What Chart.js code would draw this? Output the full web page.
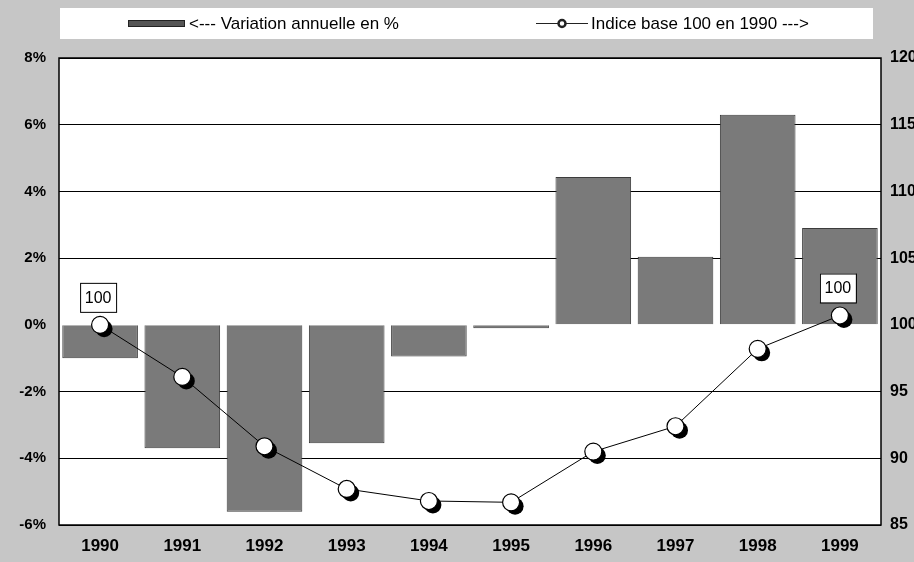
<!DOCTYPE html>
<html>
<head>
<meta charset="utf-8">
<script src="https://cdn.jsdelivr.net/npm/chart.js@4/dist/chart.umd.min.js"></script>
<style>
  html, body { margin: 0; padding: 0; background: #c4c4c4; overflow: hidden; }
  #graph { display: block; }
</style>
</head>
<body>
<canvas id="graph" width="914" height="562"></canvas>
<script>
// ─── DONNÉES ──────────────────────────────────────────────────────────────
const annees     = ["1990","1991","1992","1993","1994","1995","1996","1997","1998","1999"];
const variation  = [-1.0, -3.7, -5.6, -3.55, -0.95, -0.1, 4.43, 2.04, 6.3, 2.9];   // % annuel
const indice     = [100, 96.1, 90.9, 87.7, 86.8, 86.7, 90.5, 92.4, 98.2, 100.7];   // base 100 en 1990
const ticksPct   = [-6, -4, -2, 0, 2, 4, 6, 8];
const ticksIdx   = [85, 90, 95, 100, 105, 110, 115, 120];
const etiquettes = [0, 9];            // points portant une étiquette
const textesEtiq = ["100", "100"];

const labelBarres = "<--- Variation annuelle en %";
const labelLigne  = "Indice base 100 en 1990 --->";

const FONT = "'Liberation Sans', Arial, sans-serif";
const GRIS_FOND  = "#c6c6c6";
const GRIS_BARRE = "#7a7a7a";

// ─── PLUGINS ──────────────────────────────────────────────────────────────
const fondPlugin = {
  id: "fond",
  beforeDraw(chart) {
    const { ctx, chartArea: a } = chart;
    ctx.save();
    ctx.fillStyle = GRIS_FOND;
    ctx.fillRect(0, 0, chart.width, chart.height);
    ctx.fillStyle = "#fff";
    ctx.fillRect(a.left, a.top, a.right - a.left, a.bottom - a.top);
    ctx.restore();
  },
  afterDraw(chart) {
    const { ctx, chartArea: a } = chart;
    ctx.save();
    ctx.strokeStyle = "#000";
    ctx.lineWidth = 1.5;
    ctx.strokeRect(a.left, a.top, a.right - a.left, a.bottom - a.top);
    ctx.restore();
  }
};

// ombre noire sous les marqueurs blancs
const ombrePlugin = {
  id: "ombre",
  beforeDatasetDraw(chart, args) {
    if (chart.data.datasets[args.index].type !== "line") return;
    const ctx = chart.ctx;
    ctx.save();
    ctx.fillStyle = "#000";
    args.meta.data.forEach(p => {
      ctx.beginPath();
      ctx.arc(p.x + 4, p.y + 4, 8.5, 0, Math.PI * 2);
      ctx.fill();
    });
    ctx.restore();
  }
};

const etiquettePlugin = {
  id: "etiquette",
  afterDatasetsDraw(chart) {
    const meta = chart.getDatasetMeta(1);
    const ctx = chart.ctx;
    ctx.save();
    ctx.font = "16px " + FONT;
    ctx.textAlign = "center";
    ctx.textBaseline = "middle";
    etiquettes.forEach((i, k) => {
      const p = meta.data[i];
      const w = 36, h = 29;
      const x = p.x - w / 2 - 2, y = p.y - 13 - h;
      ctx.fillStyle = "#fff";
      ctx.fillRect(x, y, w, h);
      ctx.strokeStyle = "#000";
      ctx.lineWidth = 1;
      ctx.strokeRect(x + 0.5, y + 0.5, w, h);
      ctx.fillStyle = "#000";
      ctx.fillText(textesEtiq[k], x + w / 2, y + h / 2 + 1);
    });
    ctx.restore();
  }
};

const legendePlugin = {
  id: "legende",
  afterDraw(chart) {
    const ctx = chart.ctx;
    ctx.save();
    ctx.fillStyle = "#fff";
    ctx.fillRect(60, 8, 813, 31);
    // barres
    ctx.fillStyle = "#555";
    ctx.fillRect(128, 20, 57, 7);
    ctx.strokeStyle = "#222";
    ctx.lineWidth = 1;
    ctx.strokeRect(128.5, 20.5, 56, 6);
    ctx.fillStyle = "#000";
    ctx.font = "17px " + FONT;
    ctx.textBaseline = "middle";
    ctx.textAlign = "left";
    ctx.fillText(labelBarres, 189, 24);
    // ligne
    ctx.beginPath();
    ctx.moveTo(536, 23.5);
    ctx.lineTo(588, 23.5);
    ctx.stroke();
    ctx.beginPath();
    ctx.arc(562, 23.5, 3.5, 0, Math.PI * 2);
    ctx.fillStyle = "#fff";
    ctx.fill();
    ctx.lineWidth = 2.5;
    ctx.stroke();
    ctx.fillStyle = "#000";
    ctx.fillText(labelLigne, 591, 24);
    ctx.restore();
  }
};

// ─── GRAPHIQUE ────────────────────────────────────────────────────────────
const yFont = { family: FONT, size: 15, weight: "bold" };
const xFont = { family: FONT, size: 17, weight: "bold" };

new Chart(document.getElementById("graph"), {
  data: {
    labels: annees,
    datasets: [
      {
        type: "bar",
        label: labelBarres,
        data: variation,
        yAxisID: "y",
        backgroundColor: GRIS_BARRE,
        borderColor: "#3c3c3c",
        borderWidth: 1,
        barPercentage: 0.92,
        categoryPercentage: 1,
        order: 2
      },
      {
        type: "line",
        label: labelLigne,
        data: indice,
        yAxisID: "y2",
        borderColor: "#000",
        borderWidth: 1,
        pointRadius: 8.5,
        pointBackgroundColor: "#fff",
        pointBorderColor: "#000",
        pointBorderWidth: 1.2,
        tension: 0,
        order: 1
      }
    ]
  },
  options: {
    responsive: false,
    animation: false,
    layout: { padding: { top: 58, left: 0, right: 0, bottom: 0 } },
    plugins: { legend: { display: false }, tooltip: { enabled: false } },
    scales: {
      x: {
        grid: { display: false, drawTicks: false },
        border: { display: false },
        ticks: { color: "#000", font: xFont, padding: 11 },
        afterFit: s => { s.height = 37; }
      },
      y: {
        position: "left",
        min: ticksPct[0],
        max: ticksPct[ticksPct.length - 1],
        afterBuildTicks: s => { s.ticks = ticksPct.map(v => ({ value: v })); },
        ticks: { color: "#000", font: yFont, padding: 13, callback: v => v + "%" },
        grid: {
          color: c => (c.tick && c.tick.value === 0) ? "rgba(0,0,0,0)" : "#000",
          lineWidth: 1,
          drawTicks: false
        },
        border: { display: false },
        afterFit: s => { s.width = 59; }
      },
      y2: {
        position: "right",
        min: ticksIdx[0],
        max: ticksIdx[ticksIdx.length - 1],
        afterBuildTicks: s => { s.ticks = ticksIdx.map(v => ({ value: v })); },
        ticks: { color: "#000", font: { family: FONT, size: 16, weight: "bold" }, padding: 9 },
        grid: { display: false, drawTicks: false },
        border: { display: false },
        afterFit: s => { s.width = 33; }
      }
    }
  },
  plugins: [fondPlugin, ombrePlugin, etiquettePlugin, legendePlugin]
});
</script>
</body>
</html>
